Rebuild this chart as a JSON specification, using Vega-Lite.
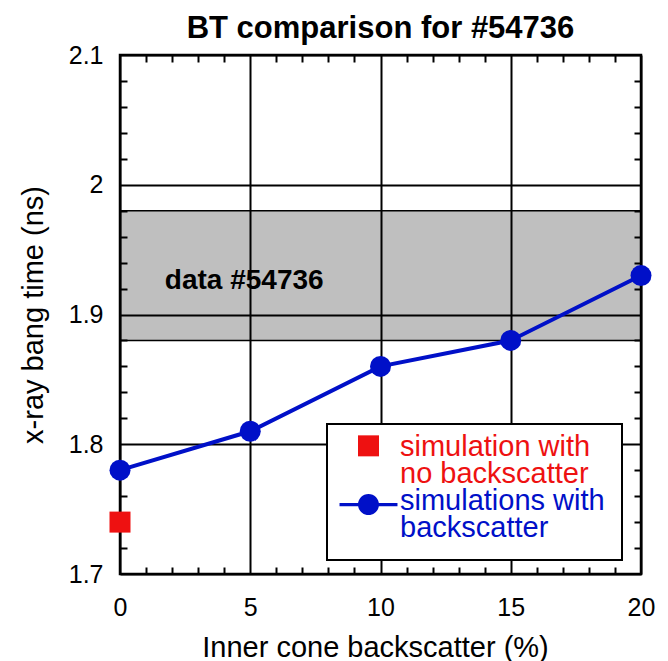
{
  "$schema": "https://vega.github.io/schema/vega-lite/v6.json",
  "width": 521,
  "height": 519,
  "autosize": "none",
  "padding": {"left": 120, "top": 55, "right": 27, "bottom": 87},
  "background": "white",
  "title": {
    "text": "BT comparison for #54736",
    "font": "Liberation Sans",
    "fontSize": 31,
    "fontWeight": "bold",
    "color": "black",
    "anchor": "middle",
    "frame": "group",
    "baseline": "alphabetic",
    "offset": 18.5,
    "dy": 44
  },
  "datasets": {
    "withBackscatter": [
      {"backscatter": 0, "bangtime": 1.78, "series": "simulations with backscatter"},
      {"backscatter": 5, "bangtime": 1.81, "series": "simulations with backscatter"},
      {"backscatter": 10, "bangtime": 1.86, "series": "simulations with backscatter"},
      {"backscatter": 15, "bangtime": 1.88, "series": "simulations with backscatter"},
      {"backscatter": 20, "bangtime": 1.93, "series": "simulations with backscatter"}
    ],
    "noBackscatter": [
      {"backscatter": 0, "bangtime": 1.74, "series": "simulation with no backscatter"}
    ],
    "measuredBand": [
      {"low": 1.88, "high": 1.98}
    ],
    "bandLabel": [
      {"backscatter": 4.77, "bangtime": 1.92, "label": "data #54736"}
    ]
  },
  "resolve": {"axis": {"x": "independent", "y": "independent"}},
  "layer": [
    {
      "data": {"name": "measuredBand"},
      "mark": {"type": "rect", "fill": "black", "fillOpacity": 0.25, "stroke": "black", "strokeWidth": 1.5},
      "encoding": {
        "y": {
          "field": "low", "type": "quantitative",
          "scale": {"domain": [1.7, 2.1], "nice": false, "zero": false},
          "axis": {
            "orient": "left",
            "values": [1.7, 1.8, 1.9, 2.0, 2.1],
            "format": "~g",
            "grid": true,
            "ticks": false,
            "tickSize": 0,
            "domain": false,
            "labelFontSize": 25,
            "labelPadding": 17,
            "labelFlush": false,
            "labelOverlap": false,
            "title": "x-ray bang time (ns)",
            "titleFontSize": 29,
            "titleFontWeight": "normal",
            "titleAngle": -90,
            "titleAlign": "center",
            "titleBaseline": "alphabetic",
            "titleX": -77.5,
            "titleY": 259.5
          }
        },
        "y2": {"field": "high"}
      }
    },
    {
      "data": {"name": "bandLabel"},
      "mark": {"type": "text", "font": "Liberation Sans", "fontSize": 28, "fontWeight": "bold", "color": "black", "align": "center", "baseline": "alphabetic"},
      "encoding": {
        "x": {
          "field": "backscatter", "type": "quantitative",
          "scale": {"domain": [0, 20], "nice": false, "zero": false},
          "axis": {
            "orient": "bottom",
            "values": [1, 2, 3, 4, 6, 7, 8, 9, 11, 12, 13, 14, 16, 17, 18, 19],
            "grid": false, "labels": false, "domain": false, "title": null,
            "ticks": true, "tickSize": -7
          }
        },
        "y": {
          "field": "bangtime", "type": "quantitative",
          "scale": {"domain": [1.7, 2.1], "nice": false, "zero": false},
          "axis": {
            "orient": "left",
            "values": [1.72, 1.74, 1.76, 1.78, 1.82, 1.84, 1.86, 1.88, 1.92, 1.94, 1.96, 1.98, 2.02, 2.04, 2.06, 2.08],
            "grid": false, "labels": false, "domain": false, "title": null,
            "ticks": true, "tickSize": -7
          }
        },
        "text": {"field": "label"}
      }
    },
    {
      "data": {"name": "withBackscatter"},
      "mark": {"type": "line", "color": "#0010c8", "strokeWidth": 4},
      "encoding": {
        "x": {
          "field": "backscatter", "type": "quantitative",
          "scale": {"domain": [0, 20], "nice": false, "zero": false},
          "axis": {
            "orient": "bottom",
            "values": [0, 5, 10, 15, 20],
            "grid": true,
            "ticks": false,
            "tickSize": 0,
            "domain": false,
            "labelFontSize": 25,
            "labelPadding": 21,
            "labelFlush": false,
            "labelOverlap": false,
            "title": "Inner cone backscatter (%)",
            "titleFontSize": 29,
            "titleFontWeight": "normal",
            "titleAlign": "center",
            "titleBaseline": "alphabetic",
            "titleX": 255,
            "titleY": 82
          }
        },
        "y": {
          "field": "bangtime", "type": "quantitative",
          "scale": {"domain": [1.7, 2.1], "nice": false, "zero": false},
          "axis": {
            "orient": "right",
            "values": [1.72, 1.74, 1.76, 1.78, 1.82, 1.84, 1.86, 1.88, 1.92, 1.94, 1.96, 1.98, 2.02, 2.04, 2.06, 2.08],
            "grid": false, "labels": false, "domain": false, "title": null,
            "ticks": true, "tickSize": -7
          }
        }
      }
    },
    {
      "data": {"name": "withBackscatter"},
      "mark": {"type": "circle", "size": 441, "opacity": 1},
      "encoding": {
        "x": {
          "field": "backscatter", "type": "quantitative",
          "scale": {"domain": [0, 20], "nice": false, "zero": false},
          "axis": {
            "orient": "top",
            "values": [1, 2, 3, 4, 6, 7, 8, 9, 11, 12, 13, 14, 16, 17, 18, 19],
            "grid": false, "labels": false, "domain": false, "title": null,
            "ticks": true, "tickSize": -7
          }
        },
        "y": {
          "field": "bangtime", "type": "quantitative",
          "scale": {"domain": [1.7, 2.1], "nice": false, "zero": false},
          "axis": null
        },
        "color": {
          "field": "series", "type": "nominal",
          "scale": {
            "domain": ["simulation with no backscatter", "simulations with backscatter"],
            "range": ["#ee1111", "#0010c8"]
          },
          "legend": {
            "title": null,
            "orient": "none",
            "legendX": 207,
            "legendY": 369,
            "fillColor": "white",
            "strokeColor": "black",
            "padding": 17,
            "symbolSize": 441,
            "symbolOpacity": 1,
            "symbolOffset": 10,
            "symbolType": {"expr": "datum.value === 'simulation with no backscatter' ? 'M-1,-1.92L1,-1.92L1,0.08L-1,0.08Z' : 'M-2.76,-0.62L2.76,-0.62L2.76,-0.32L-2.76,-0.32Z M-1,-0.47A1,1 0 1,1 1,-0.47A1,1 0 1,1 -1,-0.47Z'"},
            "labelExpr": "datum.value === 'simulation with no backscatter' ? ['simulation with', 'no backscatter'] : ['simulations with', 'backscatter']",
            "labelColor": {"expr": "datum.value === 'simulation with no backscatter' ? '#ee1111' : '#0010c8'"},
            "labelFont": "Liberation Sans",
            "labelFontSize": 29,
            "labelBaseline": "alphabetic",
            "labelOffset": 17,
            "labelLimit": 400,
            "rowPadding": -3
          }
        }
      }
    },
    {
      "data": {"name": "noBackscatter"},
      "mark": {"type": "square", "size": 441, "opacity": 1},
      "encoding": {
        "x": {
          "field": "backscatter", "type": "quantitative",
          "scale": {"domain": [0, 20], "nice": false, "zero": false},
          "axis": null
        },
        "y": {
          "field": "bangtime", "type": "quantitative",
          "scale": {"domain": [1.7, 2.1], "nice": false, "zero": false},
          "axis": null
        },
        "color": {
          "field": "series", "type": "nominal",
          "scale": {
            "domain": ["simulation with no backscatter", "simulations with backscatter"],
            "range": ["#ee1111", "#0010c8"]
          }
        }
      }
    }
  ],
  "config": {
    "font": "Liberation Sans",
    "view": {"stroke": "black", "strokeWidth": 2.5},
    "axis": {
      "labelFont": "Liberation Sans",
      "titleFont": "Liberation Sans",
      "labelColor": "black",
      "titleColor": "black",
      "gridColor": "black",
      "gridOpacity": 1,
      "gridWidth": 2,
      "tickColor": "black",
      "tickOpacity": 1,
      "tickWidth": 2
    },
    "legend": {"strokeWidth": 2},
    "style": {"guide-label": {"lineHeight": 27}}
  }
}
